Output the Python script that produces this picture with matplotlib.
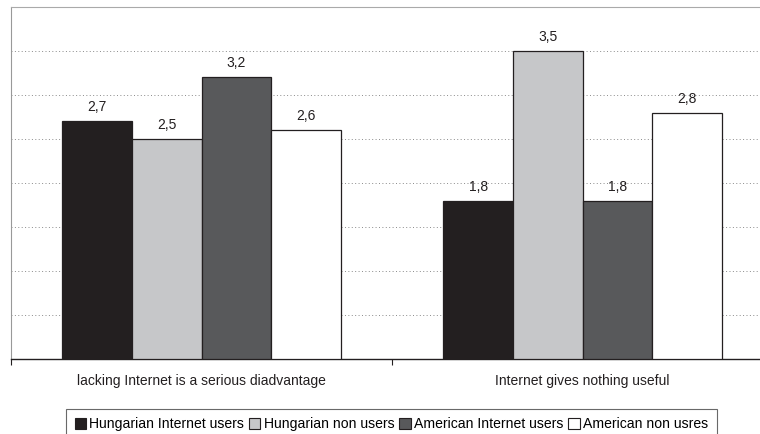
import numpy as np
import matplotlib.pyplot as plt

plt.rcParams['font.family'] = ['Liberation Sans', 'DejaVu Sans']

# survey answers, mean score per group
categories = ["lacking Internet is a serious diadvantage", "Internet gives nothing useful"]
series = ["Hungarian Internet users", "Hungarian non users", "American Internet users", "American non usres"]
values = [
    [2.7, 1.8],
    [2.5, 3.5],
    [3.2, 1.8],
    [2.6, 2.8],
]
colors = ["#231f20", "#c6c7c9", "#58595b", "#ffffff"]

fig = plt.figure(figsize=(7.6, 4.34), dpi=100)
ax = fig.add_axes([11 / 760, 75 / 434, 762 / 760, 352 / 434])

x = np.arange(len(categories))
w = 0.1825
for i, (name, vals, c) in enumerate(zip(series, values, colors)):
    pos = x + (i - 1.5) * w
    ax.bar(pos, vals, w, color=c, edgecolor="#231f20", linewidth=0.9, label=name, zorder=3)
    for px, v in zip(pos, vals):
        ax.text(px, v + 0.08, f"{v:.1f}".replace(".", ","), ha="center", va="bottom",
                fontsize=10, color="#231f20")

ax.set_xlim(-0.5, 1.5)
ax.set_ylim(0, 4)
ax.set_yticks(np.arange(0.5, 4.0, 0.5))
ax.yaxis.grid(True, linestyle=(0, (1, 2.5)), color="#8a8a8a", linewidth=0.7)
ax.tick_params(axis="y", length=0, labelleft=False)

ax.set_xticks(x)
ax.set_xticklabels(categories, fontsize=10, color="#231f20")
ax.tick_params(axis="x", which="major", length=0, pad=11)
ax.set_xticks([-0.5, 0.5, 1.5], minor=True)
ax.tick_params(axis="x", which="minor", length=4, color="#231f20", width=0.8)

ax.spines["top"].set_color("#aaaaaa")
ax.spines["left"].set_color("#999999")
ax.spines["right"].set_visible(False)
ax.spines["bottom"].set_color("#231f20")
ax.spines["bottom"].set_linewidth(1.0)

leg = fig.legend(loc="upper center", bbox_to_anchor=(391.5 / 760, 1 - 409 / 434), ncol=4,
                 fontsize=10.1, frameon=True, fancybox=False, handlelength=0.8,
                 handleheight=0.8, handletextpad=0.25, columnspacing=0.35,
                 borderpad=0.6, borderaxespad=0)
leg.get_frame().set_edgecolor("#444444")
leg.get_frame().set_linewidth(0.8)
for h in leg.legend_handles:
    h.set_linewidth(0.8)

fig.savefig("out.png", dpi=100)
